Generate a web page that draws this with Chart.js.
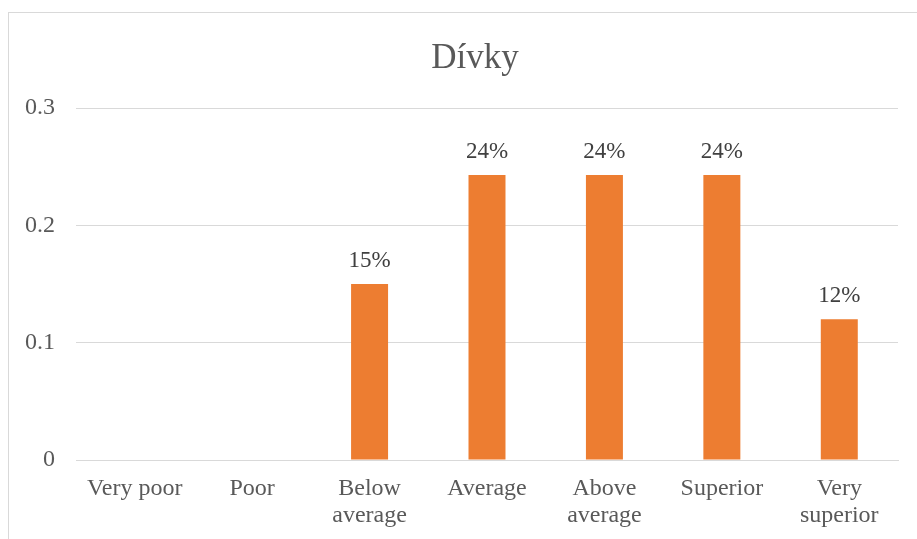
<!DOCTYPE html>
<html>
<head>
<meta charset="utf-8">
<script src="https://cdn.jsdelivr.net/npm/chart.js@4"></script>
<style>
  html, body { margin: 0; padding: 0; background: #fff; overflow: hidden; }
  #frame { position: absolute; left: 8px; top: 12px; width: 1000px; height: 600px; border: 1px solid #d9d9d9; }
  #wrap { position: absolute; left: 0; top: 0; width: 917px; height: 539px; }
</style>
</head>
<body>
<div id="frame"></div>
<div id="wrap"><canvas id="chart" width="917" height="539"></canvas></div>
<script>
// categories and values
var categories = ["Very poor", "Poor", ["Below", "average"], "Average", ["Above", "average"], "Superior", ["Very", "superior"]];
var values = [0, 0, 0.15, 0.243, 0.243, 0.243, 0.12];
var yTicks = [0, 0.1, 0.2, 0.3];
var title = "Dívky";

var serif = "'Liberation Serif', 'Times New Roman', serif";
var grey = "#595959";

// draws the % label above each non-zero bar
var barLabels = {
  id: "barLabels",
  afterDatasetsDraw: function(chart) {
    var ctx = chart.ctx;
    var meta = chart.getDatasetMeta(0);
    ctx.save();
    ctx.font = "23px " + serif;
    ctx.fillStyle = "#404040";
    ctx.textAlign = "center";
    ctx.textBaseline = "middle";
    meta.data.forEach(function(bar, i) {
      var v = values[i];
      if (!v) return;
      ctx.fillText(Math.round(v * 100) + "%", bar.x, bar.y - 23);
    });
    ctx.restore();
  }
};

// title centred on the whole framed chart (frame starts at x=8), not the canvas
var chartTitle = {
  id: "chartTitle",
  afterDraw: function(chart) {
    var ctx = chart.ctx;
    ctx.save();
    ctx.font = "35px " + serif;
    ctx.fillStyle = grey;
    ctx.textAlign = "center";
    ctx.textBaseline = "alphabetic";
    ctx.fillText(title, 475, 68);
    ctx.restore();
  }
};

new Chart(document.getElementById("chart"), {
  type: "bar",
  data: {
    labels: categories,
    datasets: [{
      data: values,
      backgroundColor: "#ED7D31",
      borderWidth: 0,
      categoryPercentage: 1,
      barPercentage: 0.315
    }]
  },
  options: {
    responsive: false,
    animation: false,
    devicePixelRatio: 1,
    layout: { padding: { left: 0, right: 19, top: 108, bottom: 0 } },
    plugins: {
      legend: { display: false },
      tooltip: { enabled: false },
      title: { display: false }
    },
    scales: {
      x: {
        grid: { display: false, drawTicks: false },
        border: { display: true, color: "#d9d9d9", width: 1 },
        ticks: {
          color: grey,
          font: { family: serif, size: 24, lineHeight: 1.125 },
          padding: 15,
          maxRotation: 0,
          autoSkip: false
        },
        afterFit: function(scale) { scale.height = 79; }
      },
      y: {
        min: 0,
        max: 0.3,
        afterBuildTicks: function(scale) {
          scale.ticks = yTicks.map(function(v) { return { value: v }; });
        },
        grid: { color: "#d9d9d9", lineWidth: 1, drawTicks: false },
        border: { display: false },
        ticks: {
          color: grey,
          font: { family: serif, size: 24 },
          padding: 21,
          callback: function(v) { return String(+v.toFixed(1)); }
        },
        afterFit: function(scale) { scale.width = 76; }
      }
    }
  },
  plugins: [barLabels, chartTitle]
});
</script>
</body>
</html>
